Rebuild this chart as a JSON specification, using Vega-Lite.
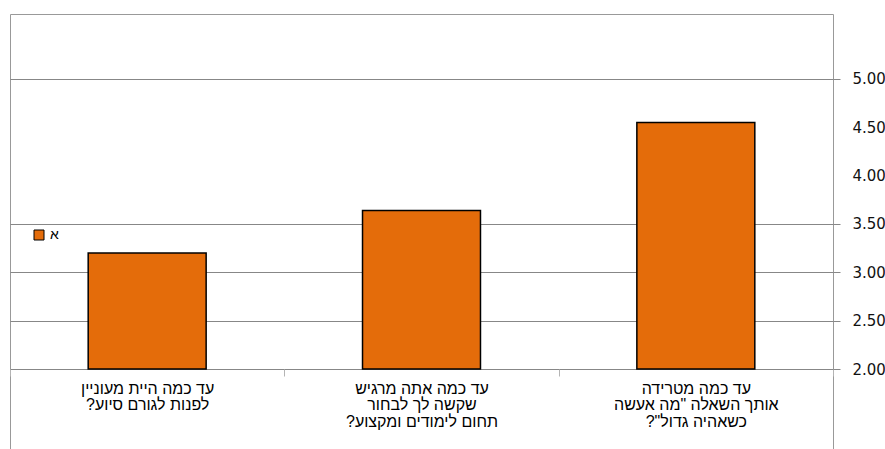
{
  "$schema": "https://vega.github.io/schema/vega-lite/v6.json",
  "width": 823,
  "height": 440,
  "autosize": "none",
  "padding": {"left": 10, "top": 14, "right": 52, "bottom": 0},
  "background": "white",
  "config": {
    "view": {"stroke": "#999999", "strokeWidth": 1},
    "font": "Liberation Sans"
  },
  "data": {
    "values": [
      {"question": "עד כמה היית מעוניין|לפנות לגורם סיוע?\u200F", "series": "א", "value": 3.2},
      {"question": "עד כמה אתה מרגיש|שקשה לך לבחור|תחום לימודים ומקצוע?\u200F", "series": "א", "value": 3.64},
      {"question": "עד כמה מטרידה|אותך השאלה \"מה אעשה|כשאהיה גדול\"?\u200F", "series": "א", "value": 4.55}
    ]
  },
  "mark": {"type": "bar", "stroke": "#000000", "strokeWidth": 1.5, "width": {"band": 0.43}},
  "encoding": {
    "x": {
      "field": "question",
      "type": "nominal",
      "sort": null,
      "scale": {"paddingInner": 0, "paddingOuter": 0},
      "axis": {
        "title": null,
        "labelAngle": 0,
        "labelExpr": "split(datum.label, '|')",
        "tickBand": "extent",
        "tickSize": 7,
        "tickColor": "#b4b4b4",
        "domain": false,
        "grid": false,
        "offset": -85,
        "labelPadding": 4,
        "labelFont": "Liberation Sans",
        "labelFontSize": 16,
        "labelColor": "#000000",
        "labelLineHeight": 16.5,
        "labelBaseline": "top",
        "labelLimit": 0
      }
    },
    "y": {
      "field": "value",
      "type": "quantitative",
      "scale": {"domain": [1.1207, 5.6724], "nice": false, "zero": false},
      "axis": {
        "orient": "right",
        "title": null,
        "values": [2, 2.5, 3, 3.5, 4, 4.5, 5],
        "format": ".2f",
        "grid": true,
        "gridColor": "#878787",
        "gridOpacity": {"condition": {"test": "datum.value == 4 || datum.value == 4.5", "value": 0}, "value": 1},
        "tickColor": "#878787",
        "tickOpacity": {"condition": {"test": "datum.value == 4 || datum.value == 4.5", "value": 0}, "value": 1},
        "tickSize": 7,
        "domain": false,
        "labelPadding": 12,
        "labelFont": "DejaVu Sans",
        "labelFontSize": 15,
        "labelColor": "#111111"
      }
    },
    "y2": {"datum": 2},
    "color": {
      "field": "series",
      "type": "nominal",
      "scale": {"range": ["#E46C0A"]},
      "legend": {
        "title": null,
        "orient": "none",
        "legendX": 22,
        "legendY": 214,
        "symbolType": "square",
        "symbolSize": 100,
        "symbolStrokeColor": "#000000",
        "symbolStrokeWidth": 1,
        "symbolFillColor": "#E46C0A",
        "labelFont": "Liberation Sans",
        "labelFontSize": 14,
        "labelColor": "#000000",
        "padding": 0
      }
    }
  }
}
